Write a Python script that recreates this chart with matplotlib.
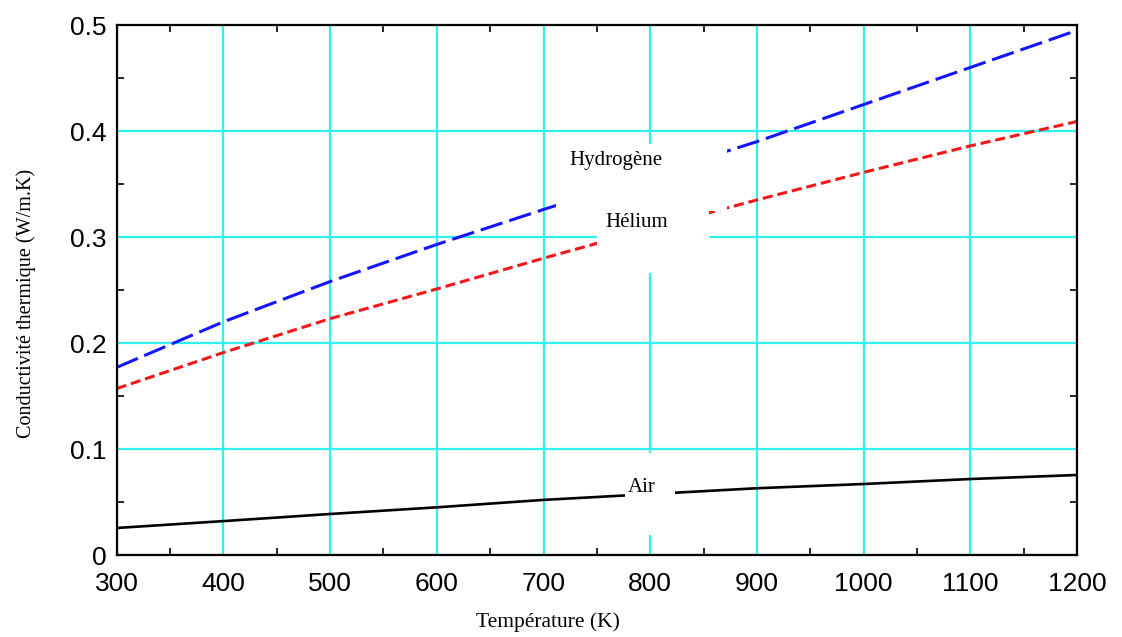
import matplotlib
matplotlib.use("Agg")
import matplotlib.pyplot as plt
from matplotlib.patches import Rectangle
from matplotlib.ticker import MultipleLocator

# valeurs
temperature = [300, 400, 500, 600, 700, 800, 900, 1000, 1100, 1200]
k_hydrogene = [0.177, 0.220, 0.258, 0.293, 0.326, 0.358, 0.390, 0.425, 0.460, 0.495]
k_helium = [0.157, 0.191, 0.223, 0.251, 0.280, 0.308, 0.335, 0.361, 0.386, 0.409]
k_air = [0.0255, 0.032, 0.0387, 0.045, 0.052, 0.0575, 0.063, 0.067, 0.0717, 0.0755]

fig = plt.figure(figsize=(11.22, 6.37), dpi=100)
ax = fig.add_axes([0.104, 0.1287, 0.856, 0.8320])

ax.plot(temperature, k_hydrogene, color="#1515ff", lw=2.2, dashes=(7.5, 2.3), zorder=2)
ax.plot(temperature, k_helium, color="#f01818", lw=2.2, dashes=(3.3, 1.6), zorder=2)
ax.plot(temperature, k_air, color="black", lw=1.9, zorder=2)

# zones blanches derriere les etiquettes
for x0, x1, y0, y1 in [(712, 872, 0.325, 0.388), (750, 855, 0.266, 0.330), (776, 823, 0.019, 0.096)]:
    ax.add_patch(Rectangle((x0, y0), x1 - x0, y1 - y0, facecolor="white", edgecolor="none", zorder=3))

serif = "Liberation Serif"
ax.text(768, 0.372, "Hydrogène", family=serif, fontsize=15, ha="center", va="center", zorder=4)
ax.text(787, 0.314, "Hélium", family=serif, fontsize=15, ha="center", va="center", zorder=4)
ax.text(792, 0.064, "Air", family=serif, fontsize=15, ha="center", va="center", zorder=4)

ax.set_xlim(300, 1200)
ax.set_ylim(0, 0.5)
ax.xaxis.set_major_locator(MultipleLocator(100))
ax.xaxis.set_minor_locator(MultipleLocator(50))
ax.yaxis.set_minor_locator(MultipleLocator(0.05))
ax.set_yticks([0, 0.1, 0.2, 0.3, 0.4, 0.5])
ax.set_yticklabels(["0", "0.1", "0.2", "0.3", "0.4", "0.5"])

ax.set_axisbelow(True)
ax.grid(True, which="major", color="#30f0f0", lw=1.6)
ax.tick_params(which="major", length=0, labelsize=19)
ax.tick_params(axis="x", which="major", pad=12)
ax.tick_params(axis="y", which="major", pad=7)
ax.tick_params(which="minor", direction="in", length=5, width=1.2, top=True, right=True)
for lab in ax.get_xticklabels() + ax.get_yticklabels():
    lab.set_family("Liberation Sans")
for s in ax.spines.values():
    s.set_linewidth(1.6)
    s.set_zorder(5)

ax.set_xlabel("Température (K)", family=serif, fontsize=15.5)
ax.xaxis.set_label_coords(0.449, -0.108)
ax.set_ylabel("Conductivité thermique (W/m.K)", family=serif, fontsize=14.5)
ax.yaxis.set_label_coords(-0.084, 0.475)

fig.savefig("out.png", dpi=100)
